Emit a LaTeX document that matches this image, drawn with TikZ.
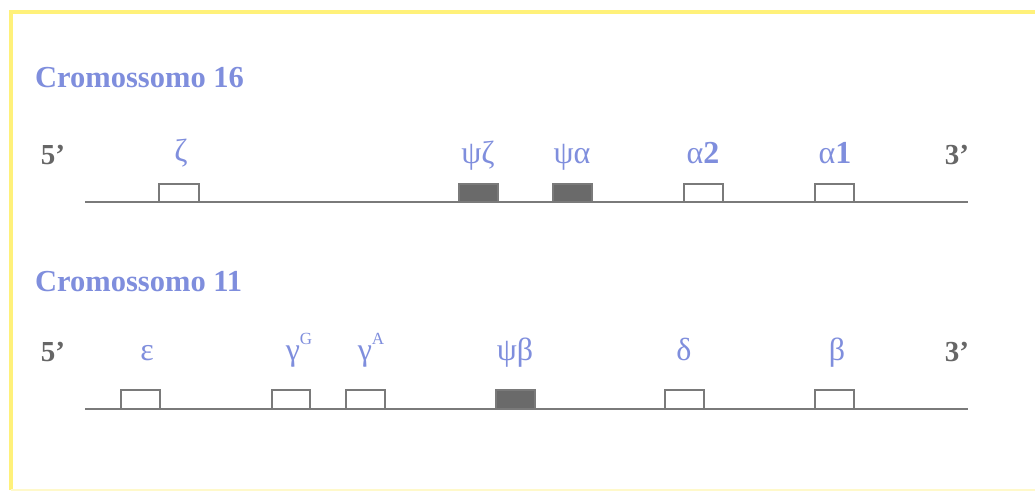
\documentclass[tikz,border=0pt]{standalone}
\usepackage{fontspec}
\setmainfont{Liberation Serif}
\begin{document}
\begin{tikzpicture}[x=1pt,y=-1pt,
  title/.style={anchor=base west,inner sep=0pt,font=\fontsize{30.5}{32}\selectfont\bfseries,text=lblue},
  end/.style={anchor=base,inner sep=0pt,font=\fontsize{29}{30}\selectfont\bfseries,text=tgray},
  lbl/.style={anchor=base,inner sep=0pt,font=\fontsize{32}{34}\selectfont,text=lblue},
  gene/.style={draw=lgray,line width=1.8pt,fill=white},
  pseudo/.style={draw=lgray,line width=1.8pt,fill=dgray},
  chrom/.style={draw=lgray,line width=1.8pt}]
\definecolor{lblue}{HTML}{7F8EDD}
\definecolor{tgray}{HTML}{666666}
\definecolor{lgray}{HTML}{7A7A7A}
\definecolor{dgray}{HTML}{6A6A6A}
\definecolor{frame}{HTML}{FFF17A}
\useasboundingbox (0,0) rectangle (1035,491);
\fill[white] (0,0) rectangle (1035,491);
\draw[frame,line width=4pt] (11,490) -- (11,12) -- (1035,12);
\draw[frame!40,line width=1.5pt] (11,490) -- (1035,490);

% Chromosome 16
\node[title] (t16) at (35,87) {Cromossomo 16};
\node[end] (a5) at (53,164) {5’};
\node[end] (a3) at (957,164) {3’};
\coordinate (l16a) at (85,202);
\coordinate (l16b) at (968,202);
\draw[chrom] (l16a) -- (l16b);
\draw[gene] (159,202) rectangle (199,184);
\draw[pseudo] (459,202) rectangle (498,184);
\draw[pseudo] (553,202) rectangle (592,184);
\draw[gene] (684,202) rectangle (723,184);
\draw[gene] (815,202) rectangle (854,184);
\node[lbl] (zeta) at (181,161) {ζ};
\node[lbl] (psizeta) at (478,163) {ψζ};
\node[lbl] (psialpha) at (572,163) {ψα};
\node[lbl] (alpha2) at (703,163) {α\textbf{2}};
\node[lbl] (alpha1) at (835,163) {α\textbf{1}};

% Chromosome 11
\node[title] (t11) at (35,291) {Cromossomo 11};
\node[end] (b5) at (53,361) {5’};
\node[end] (b3) at (957,361) {3’};
\coordinate (l11a) at (85,409);
\coordinate (l11b) at (968,409);
\draw[chrom] (l11a) -- (l11b);
\draw[gene] (121,409) rectangle (160,390);
\draw[gene] (272,409) rectangle (310,390);
\draw[gene] (346,409) rectangle (385,390);
\draw[pseudo] (496,409) rectangle (535,390);
\draw[gene] (665,409) rectangle (704,390);
\draw[gene] (815,409) rectangle (854,390);
\node[lbl] (eps) at (147,360) {ε};
\node[lbl] (gG) at (299,360) {γ\raisebox{0.5em}{\fontsize{17}{18}\selectfont G}};
\node[lbl] (gA) at (371,360) {γ\raisebox{0.5em}{\fontsize{17}{18}\selectfont A}};
\node[lbl] (psibeta) at (515,360) {ψβ};
\node[lbl] (delta) at (684,360) {δ};
\node[lbl] (beta) at (837,360) {β};
\end{tikzpicture}
\end{document}
